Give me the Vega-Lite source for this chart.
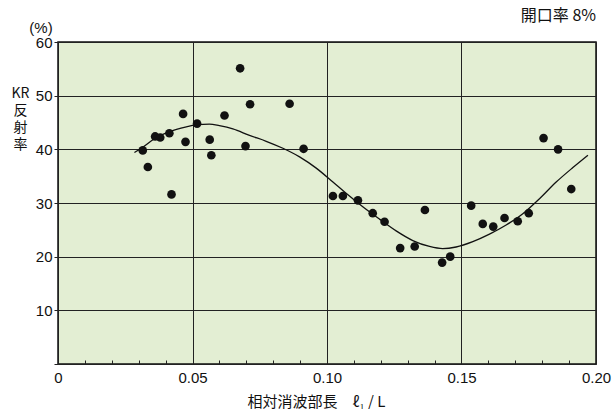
{
  "$schema": "https://vega.github.io/schema/vega-lite/v6.json",
  "width": 538,
  "height": 322,
  "autosize": "none",
  "padding": {"left": 58, "top": 42, "right": 19, "bottom": 45},
  "background": "white",
  "title": {"text": "開口率  8%", "anchor": "end", "frame": "group", "fontSize": 16, "fontWeight": "normal", "font": "Noto Sans CJK JP", "offset": -3, "color": "#111"},
  "config": {
    "view": {"fill": "#e3eed3", "stroke": "#111", "strokeWidth": 1.5},
    "axis": {"labelFont": "Liberation Sans", "labelFontSize": 15, "labelColor": "#111", "titleFont": "Noto Sans CJK JP", "titleFontWeight": "normal", "titleColor": "#111", "domain": false, "tickColor": "#222", "gridColor": "#222", "gridOpacity": 1, "gridWidth": 1}
  },
  "resolve": {"axis": {"x": "independent"}},
  "datasets": {
    "pts": [
      {"x": 0.0315, "y": 39.8}, {"x": 0.0334, "y": 36.7}, {"x": 0.0361, "y": 42.4}, {"x": 0.0380, "y": 42.2},
      {"x": 0.0414, "y": 43.0}, {"x": 0.0422, "y": 31.6}, {"x": 0.0465, "y": 46.6}, {"x": 0.0474, "y": 41.4},
      {"x": 0.0517, "y": 44.8}, {"x": 0.0564, "y": 41.8}, {"x": 0.0570, "y": 38.9}, {"x": 0.0619, "y": 46.3},
      {"x": 0.0677, "y": 55.1}, {"x": 0.0697, "y": 40.6}, {"x": 0.0714, "y": 48.4}, {"x": 0.0861, "y": 48.5},
      {"x": 0.0913, "y": 40.1}, {"x": 0.1022, "y": 31.3}, {"x": 0.1059, "y": 31.3}, {"x": 0.1115, "y": 30.5},
      {"x": 0.1170, "y": 28.1}, {"x": 0.1214, "y": 26.5}, {"x": 0.1272, "y": 21.6}, {"x": 0.1326, "y": 21.9},
      {"x": 0.1364, "y": 28.7}, {"x": 0.1428, "y": 18.9}, {"x": 0.1458, "y": 20.0}, {"x": 0.1536, "y": 29.5},
      {"x": 0.1579, "y": 26.1}, {"x": 0.1618, "y": 25.6}, {"x": 0.1660, "y": 27.2}, {"x": 0.1709, "y": 26.6},
      {"x": 0.1750, "y": 28.1}, {"x": 0.1805, "y": 42.1}, {"x": 0.1859, "y": 40.0}, {"x": 0.1908, "y": 32.6}
    ],
    "curve": [
      {"x": 0.0284, "y": 39.4}, {"x": 0.0315, "y": 40.4}, {"x": 0.0359, "y": 42.0}, {"x": 0.0414, "y": 43.3},
      {"x": 0.0477, "y": 44.2}, {"x": 0.0517, "y": 44.6}, {"x": 0.0563, "y": 44.7}, {"x": 0.0600, "y": 44.4},
      {"x": 0.0650, "y": 43.8}, {"x": 0.0712, "y": 42.6}, {"x": 0.0774, "y": 41.5}, {"x": 0.0836, "y": 40.2},
      {"x": 0.0898, "y": 38.6}, {"x": 0.0960, "y": 36.5}, {"x": 0.1022, "y": 33.9}, {"x": 0.1071, "y": 31.8},
      {"x": 0.1133, "y": 29.3}, {"x": 0.1195, "y": 27.0}, {"x": 0.1257, "y": 24.8}, {"x": 0.1319, "y": 23.0},
      {"x": 0.1381, "y": 21.9}, {"x": 0.1430, "y": 21.5}, {"x": 0.1480, "y": 21.8}, {"x": 0.1542, "y": 22.8},
      {"x": 0.1604, "y": 24.2}, {"x": 0.1666, "y": 25.9}, {"x": 0.1728, "y": 28.0}, {"x": 0.1790, "y": 30.8},
      {"x": 0.1852, "y": 33.9}, {"x": 0.1914, "y": 36.6}, {"x": 0.1970, "y": 38.9}
    ]
  },
  "layer": [
    {
      "data": {"name": "curve"},
      "mark": {"type": "line", "interpolate": "monotone", "color": "#111", "strokeWidth": 1.3},
      "encoding": {
        "x": {"field": "x", "type": "quantitative", "scale": {"domain": [0, 0.2], "nice": false, "zero": false},
          "axis": {
            "orient": "bottom",
            "values": [0, 0.05, 0.1, 0.15, 0.2],
            "grid": true,
            "ticks": false,
            "labelExpr": "datum.value == 0 ? '0' : format(datum.value, '.2f')",
            "labelOverlap": false, "labelFlush": false, "labelBound": false,
            "labelPadding": 6,
            "title": "相対消波部長　ℓ₁ / L",
            "titleFontSize": 15,
            "titleX": 258, "titleY": 42, "titleBaseline": "alphabetic", "titleAlign": "center"
          }},
        "y": {"field": "y", "type": "quantitative", "scale": {"domain": [0, 60], "nice": false},
          "axis": {
            "values": [0, 10, 20, 30, 40, 50, 60],
            "grid": true,
            "tickSize": 4,
            "labelPadding": 2,
            "labelExpr": "datum.value == 0 ? '' : datum.label",
            "title": ["KR", "反", "射", "率"],
            "titleFontSize": 14,
            "titleLineHeight": 17,
            "titleAngle": 0,
            "titleAlign": "center",
            "titleBaseline": "top",
            "titleX": -38,
            "titleY": 44
          }}
      }
    },
    {
      "data": {"name": "pts"},
      "mark": {"type": "circle", "size": 75, "color": "#111", "opacity": 1},
      "encoding": {
        "x": {"field": "x", "type": "quantitative",
          "axis": {
            "orient": "bottom",
            "values": [0.01, 0.02, 0.03, 0.04, 0.06, 0.07, 0.08, 0.09, 0.11, 0.12, 0.13, 0.14, 0.16, 0.17, 0.18, 0.19],
            "grid": false,
            "tickSize": -4,
            "labels": false,
            "title": null
          }},
        "y": {"field": "y", "type": "quantitative"}
      }
    },
    {
      "data": {"values": [{"x": 0, "y": 60, "t": "(%)"}]},
      "mark": {"type": "text", "dx": -17, "dy": -14, "fontSize": 15, "font": "Liberation Sans", "color": "#111", "align": "center", "baseline": "middle"},
      "encoding": {
        "x": {"field": "x", "type": "quantitative", "axis": null},
        "y": {"field": "y", "type": "quantitative"},
        "text": {"field": "t"}
      }
    }
  ]
}
